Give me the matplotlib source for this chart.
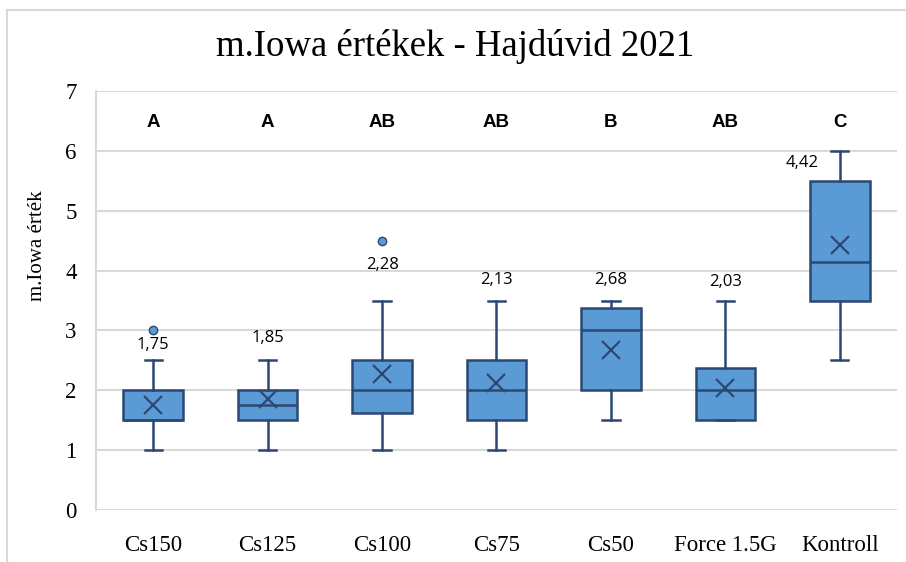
import matplotlib.pyplot as plt
from matplotlib.patches import Rectangle

# treatments and box statistics
categories = ['Cs150', 'Cs125', 'Cs100', 'Cs75', 'Cs50', 'Force 1.5G', 'Kontroll']
whis_lo = [1.0, 1.0, 1.0, 1.0, 1.5, 1.5, 2.5]
q1 = [1.5, 1.5, 1.62, 1.5, 2.0, 1.5, 3.5]
median = [1.5, 1.75, 2.0, 2.0, 3.0, 2.0, 4.15]
q3 = [2.0, 2.0, 2.5, 2.5, 3.38, 2.38, 5.5]
whis_hi = [2.5, 2.5, 3.5, 3.5, 3.5, 3.5, 6.0]
means = [1.75, 1.85, 2.28, 2.13, 2.68, 2.03, 4.42]
outliers = [[3.0], [], [4.5], [], [], [], []]
letters = ['A', 'A', 'AB', 'AB', 'B', 'AB', 'C']
label_y = [2.76, 2.87, 4.09, 3.84, 3.84, 3.81, 5.8]

box_face = '#5b9bd5'
box_edge = '#2c4872'
grid_col = '#d9d9d9'

fig = plt.figure(figsize=(9.06, 5.62), dpi=100)
fig.patches.append(Rectangle((7 / 906, -0.1), 1.2, 1 - 10 / 562 + 0.1, transform=fig.transFigure,
                             fill=False, edgecolor=grid_col, linewidth=1.5))
ax = fig.add_axes([96 / 906, 1 - 510 / 562, 801 / 906, 419 / 562])

stats = []
for i in range(len(categories)):
    stats.append(dict(whislo=whis_lo[i], q1=q1[i], med=median[i], q3=q3[i],
                      whishi=whis_hi[i], mean=means[i], fliers=outliers[i]))

pos = list(range(1, len(categories) + 1))
ax.bxp(stats, positions=pos, widths=0.52, patch_artist=True, showmeans=True,
       boxprops=dict(facecolor=box_face, edgecolor=box_edge, linewidth=1.8),
       medianprops=dict(color=box_edge, linewidth=1.8),
       whiskerprops=dict(color=box_edge, linewidth=1.8),
       capprops=dict(color=box_edge, linewidth=1.8), capwidths=0.15,
       meanprops=dict(marker='x', markersize=13, markeredgecolor=box_edge, markeredgewidth=1.6),
       flierprops=dict(marker='o', markersize=6, markerfacecolor=box_face,
                       markeredgecolor=box_edge, markeredgewidth=1.0))

for i, p in enumerate(pos):
    txt = f'{means[i]:.2f}'.replace('.', ',')
    xo = p - 0.33 if categories[i] == 'Kontroll' else p
    ax.text(xo, label_y[i], txt, ha='center', va='center', fontsize=12,
            family='Open Sans', color='black')
    ax.text(p, 6.47, letters[i], ha='center', va='center', fontsize=13.5,
            fontweight='bold', family='Liberation Sans')

ax.set_xlim(0.5, 7.5)
ax.set_ylim(0, 7)
ax.set_yticks(range(0, 8))
ax.set_xticks(pos)
ax.set_xticklabels(categories)
ax.yaxis.grid(True, color=grid_col, linewidth=1.5)
ax.set_axisbelow(True)
for s in ['top', 'right', 'bottom']:
    ax.spines[s].set_visible(False)
ax.spines['left'].set_color(grid_col)
ax.spines['left'].set_linewidth(1.5)
ax.tick_params(length=0, labelsize=16.5, pad=14)
ax.tick_params(axis='x', pad=18)
for lab in ax.get_xticklabels() + ax.get_yticklabels():
    lab.set_family('Liberation Serif')

ax.set_ylabel('m.Iowa érték', family='Liberation Serif', fontsize=15)
ax.yaxis.set_label_coords(-0.061, 0.632)
fig.text(455 / 906, 1 - 47 / 562, 'm.Iowa értékek - Hajdúvid 2021', ha='center', va='center',
         family='Liberation Serif', fontsize=26.5)

fig.savefig('out.png', dpi=100)
